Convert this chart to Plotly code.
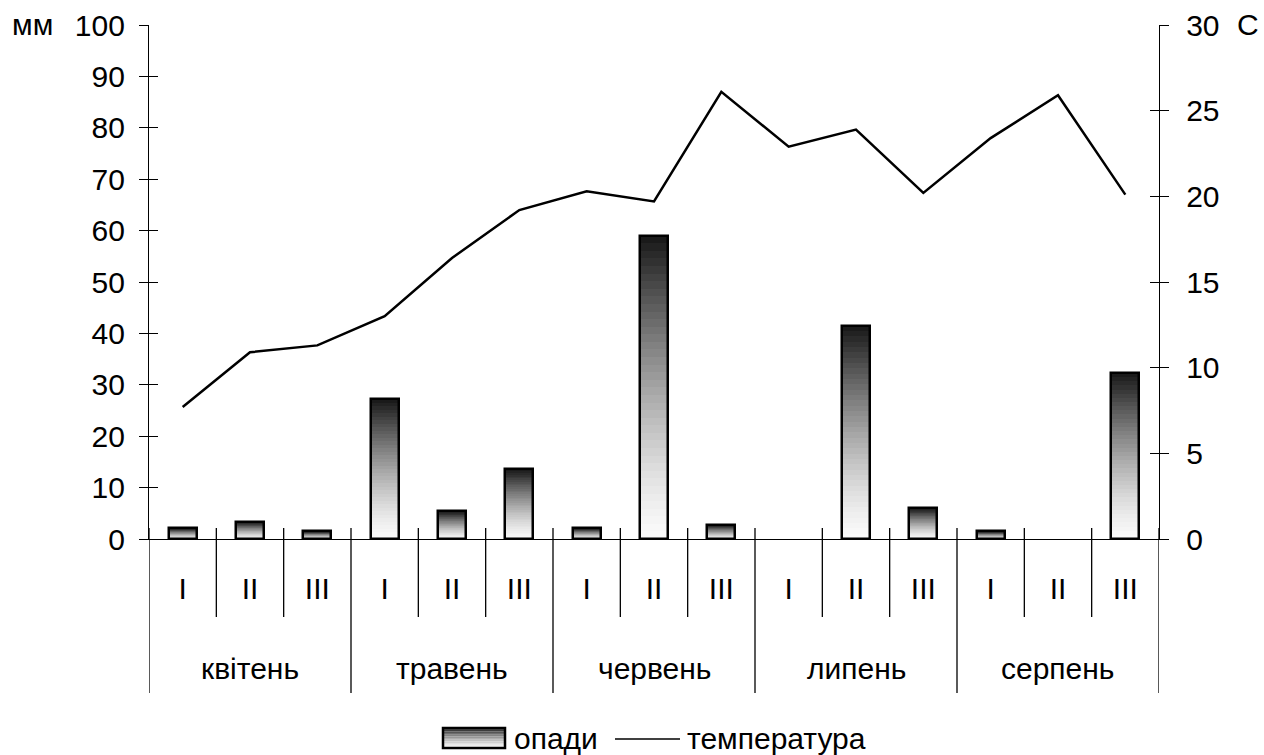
import plotly.graph_objects as go

# ---- data ----
months = ["квітень", "травень", "червень", "липень", "серпень"]
decades = ["I", "II", "III"]
precip = [2.1, 3.3, 1.5, 27.2, 5.4, 13.6, 2.1, 59.0, 2.7, 0, 41.5, 6.0, 1.5, 0, 32.3]
temperature = [7.7, 10.9, 11.3, 13.0, 16.4, 19.2, 20.3, 19.7, 26.1, 22.9, 23.9, 20.2, 23.4, 25.9, 20.1]
left_ticks = list(range(0, 101, 10))
right_ticks = list(range(0, 31, 5))

FONT = "Liberation Sans Narrow, Arial Narrow, Liberation Sans, Arial, sans-serif"
FS = 30

n = len(precip)
xs = list(range(n))
labels = [decades[i % 3] for i in range(n)]

# plot area in px
L, R, T, B = 149, 1159, 25, 539
W, H = R - L, B - T


def px2paper_x(px):
    return (px - L) / W


def px2paper_y(py):
    return (B - py) / H


def gray(t):
    g = int(round(250 - 228 * (t ** 1.4)))
    return f"rgb({g},{g},{g})"


fig = go.Figure()

# gradient bars from segments
N = 40
for k in range(N):
    t = (k + 0.5) / N
    fig.add_trace(go.Bar(
        x=xs, y=[v / N for v in precip], base=[v * k / N for v in precip],
        width=0.42, marker=dict(color=gray(t), line=dict(width=0)),
        showlegend=False, hoverinfo="skip"))

# outlines
fig.add_trace(go.Bar(
    x=xs, y=[v if v > 0 else None for v in precip], base=0, width=0.42,
    marker=dict(color="rgba(0,0,0,0)", line=dict(color="black", width=2.5)),
    showlegend=False, name="опади"))

# temperature line
fig.add_trace(go.Scatter(
    x=xs, y=temperature, yaxis="y2", mode="lines",
    line=dict(color="black", width=2.5), showlegend=False, name="температура"))

# invisible traces for inner-tick axes
fig.add_trace(go.Scatter(x=[0], y=[None], yaxis="y3", showlegend=False, hoverinfo="skip"))
fig.add_trace(go.Scatter(x=[0], y=[None], yaxis="y4", showlegend=False, hoverinfo="skip"))

shapes = []
# dividers
for b in range(n + 1):
    is_month = (b % 3 == 0)
    shapes.append(dict(type="line", xref="x", yref="paper",
                       x0=b - 0.5, x1=b - 0.5,
                       y0=px2paper_y(528), y1=px2paper_y(693 if is_month else 617),
                       line=dict(color="black", width=1.3)))

# legend: gradient rect
lx0, lx1, ly0, ly1 = 443, 505, 728, 748
S = 12
for k in range(S):
    t_top = 1 - k / S
    y_a = ly0 + (ly1 - ly0) * k / S
    y_b = ly0 + (ly1 - ly0) * (k + 1) / S
    shapes.append(dict(type="rect", xref="paper", yref="paper",
                       x0=px2paper_x(lx0), x1=px2paper_x(lx1),
                       y0=px2paper_y(y_b), y1=px2paper_y(y_a),
                       fillcolor=gray(t_top - 0.5 / S), line=dict(width=0), layer="above"))
shapes.append(dict(type="rect", xref="paper", yref="paper",
                   x0=px2paper_x(lx0), x1=px2paper_x(lx1),
                   y0=px2paper_y(ly1), y1=px2paper_y(ly0),
                   line=dict(color="black", width=2.5), layer="above"))
shapes.append(dict(type="line", xref="paper", yref="paper",
                   x0=px2paper_x(615), x1=px2paper_x(680),
                   y0=px2paper_y(739), y1=px2paper_y(739),
                   line=dict(color="black", width=1.5)))

annotations = []
for m, name in enumerate(months):
    annotations.append(dict(x=3 * m + 1, y=px2paper_y(668), xref="x", yref="paper",
                            text=name, showarrow=False, font=dict(size=FS, family=FONT, color="black"),
                            xanchor="center", yanchor="middle"))
annotations.append(dict(x=px2paper_x(512), y=px2paper_y(738), xref="paper", yref="paper",
                        text="опади", showarrow=False, xanchor="left", yanchor="middle",
                        font=dict(size=FS, family=FONT, color="black")))
annotations.append(dict(x=px2paper_x(685), y=px2paper_y(738), xref="paper", yref="paper",
                        text="температура", showarrow=False, xanchor="left", yanchor="middle",
                        font=dict(size=FS, family=FONT, color="black")))
annotations.append(dict(x=px2paper_x(32), y=px2paper_y(24), xref="paper", yref="paper",
                        text="мм", showarrow=False, xanchor="center", yanchor="middle",
                        font=dict(size=FS, family=FONT, color="black")))
annotations.append(dict(x=px2paper_x(1248), y=px2paper_y(24), xref="paper", yref="paper",
                        text="C", showarrow=False, xanchor="center", yanchor="middle",
                        font=dict(size=FS, family=FONT, color="black")))

axis_common = dict(showgrid=False, zeroline=False, automargin=False)
fig.update_layout(
    width=1264, height=755,
    margin=dict(l=L, r=1264 - R, t=T, b=755 - B, pad=0, autoexpand=False),
    paper_bgcolor="white", plot_bgcolor="white",
    barmode="overlay", bargap=0,
    font=dict(family=FONT, size=FS, color="black"),
    xaxis=dict(range=[-0.5, n - 0.5], tickvals=xs, ticktext=labels, ticks="",
               showline=True, linecolor="black", linewidth=1.3,
               ticklabelstandoff=23, tickfont=dict(size=FS, family=FONT), **axis_common),
    yaxis=dict(range=[0, 100], tickvals=left_ticks, ticks="outside", ticklen=9,
               tickwidth=1.3, tickcolor="black", showline=True, linecolor="black",
               linewidth=1.3, ticklabelstandoff=8, tickfont=dict(size=FS, family=FONT),
               **axis_common),
    yaxis2=dict(range=[0, 30], tickvals=right_ticks, overlaying="y", side="right",
                ticks="outside", ticklen=9, tickwidth=1.3, tickcolor="black",
                showline=True, linecolor="black", linewidth=1.3, ticklabelstandoff=11,
                tickfont=dict(size=FS, family=FONT), **axis_common),
    yaxis3=dict(range=[0, 100], tickvals=left_ticks, overlaying="y", side="left",
                ticks="inside", ticklen=9, tickwidth=1.3, tickcolor="black",
                showticklabels=False, showline=False, **axis_common),
    yaxis4=dict(range=[0, 30], tickvals=right_ticks, overlaying="y", side="right",
                ticks="inside", ticklen=9, tickwidth=1.3, tickcolor="black",
                showticklabels=False, showline=False, **axis_common),
    shapes=shapes, annotations=annotations, showlegend=False,
)

fig.write_html("out.html", config={"displayModeBar": False},
               post_script="document.body.style.margin='0px';document.body.style.overflow='hidden';")
